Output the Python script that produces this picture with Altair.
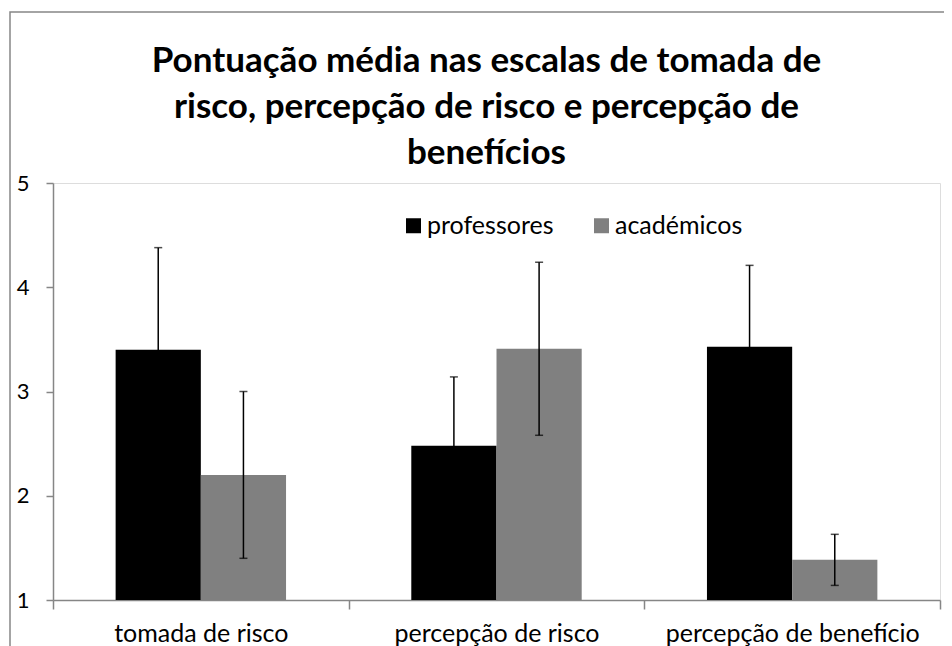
import altair as alt
import pandas as pd

categories = ["tomada de risco", "percepção de risco", "percepção de benefício"]
groups = ["professores", "académicos"]
prof_mean = [3.40, 2.48, 3.43]
prof_err = [0.98, 0.66, 0.78]
acad_mean = [2.20, 3.41, 1.385]
acad_err = [0.80, 0.83, 0.245]
colors = ["#000000", "#808080"]
title_lines = ["Pontuação média nas escalas de tomada de",
               "risco, percepção de risco e percepção de",
               "benefícios"]

rows = []
for i, c in enumerate(categories):
    rows.append(dict(cat=c, group=groups[0], mean=prof_mean[i], err=prof_err[i]))
    rows.append(dict(cat=c, group=groups[1], mean=acad_mean[i], err=acad_err[i]))
df = pd.DataFrame(rows)
df["lo"] = df["mean"] - df["err"]
df["hi"] = df["mean"] + df["err"]
df["base"] = 1

FONT = "Lato"
W, H = 887, 417

x_enc = alt.X("cat:N", sort=categories,
              scale=alt.Scale(paddingInner=0, paddingOuter=0),
              axis=alt.Axis(title=None, labelAngle=0, tickBand="extent",
                            domainColor="#868686", tickColor="#868686",
                            tickSize=9, tickWidth=1.5, domainWidth=1.5,
                            labelFontSize=25, labelFont=FONT, labelColor="#000000",
                            labelPadding=12, labelLimit=0))
xo_enc = alt.XOffset("group:N", sort=groups,
                     scale=alt.Scale(paddingOuter=0.735, paddingInner=0))
y_scale = alt.Scale(domain=[1, 5], nice=False, zero=False)

border = alt.Chart(alt.Data(values=[{}])).mark_rect(
    fill="transparent", stroke="#868686", strokeWidth=1.5
).encode(x=alt.value(-43), x2=alt.value(3000), y=alt.value(-171), y2=alt.value(3000))

bars = alt.Chart(df).mark_bar().encode(
    x=x_enc,
    xOffset=xo_enc,
    y=alt.Y("mean:Q", scale=y_scale,
            axis=alt.Axis(values=[1, 2, 3, 4, 5], format="d", grid=False, title=None,
                          domainColor="#868686", tickColor="#868686",
                          tickSize=7, tickWidth=1.5, domainWidth=1.5,
                          labelFontSize=22, labelFont=FONT, labelColor="#000000",
                          labelPadding=17)),
    y2="base:Q",
    color=alt.Color("group:N", sort=groups,
                    scale=alt.Scale(domain=groups, range=colors),
                    legend=alt.Legend(orient="none", legendX=348, legendY=30,
                                      direction="horizontal", title=None,
                                      symbolType="square", symbolSize=225,
                                      symbolStrokeWidth=0, labelFontSize=25,
                                      labelFont=FONT, labelColor="#000000",
                                      labelOffset=1, columnPadding=35,
                                      padding=0)),
)

rules = alt.Chart(df).mark_rule(color="#000000", strokeWidth=1.5).encode(
    x=alt.X("cat:N", sort=categories), xOffset=xo_enc,
    y=alt.Y("lo:Q", scale=y_scale), y2="hi:Q")

caps_hi = alt.Chart(df).mark_tick(color="#000000", size=8, thickness=1.5).encode(
    x=alt.X("cat:N", sort=categories), xOffset=xo_enc,
    y=alt.Y("hi:Q", scale=y_scale))
caps_lo = alt.Chart(df).mark_tick(color="#000000", size=8, thickness=1.5).encode(
    x=alt.X("cat:N", sort=categories), xOffset=xo_enc,
    y=alt.Y("lo:Q", scale=y_scale))

chart = alt.layer(border, bars, rules, caps_hi, caps_lo).properties(
    width=W, height=H,
    title=alt.TitleParams(text=title_lines, fontSize=35, font=FONT, fontWeight="bold",
                          color="#000000", anchor="middle", frame="group",
                          lineHeight=46, offset=-160, dx=-10),
    autosize=alt.AutoSizeParams(type="none"),
    padding={"left": 45, "top": 175, "right": 4, "bottom": 46},
).configure_view(stroke=None).configure(background="white")

chart.save("out.html", embed_options={"renderer": "svg", "actions": False})
